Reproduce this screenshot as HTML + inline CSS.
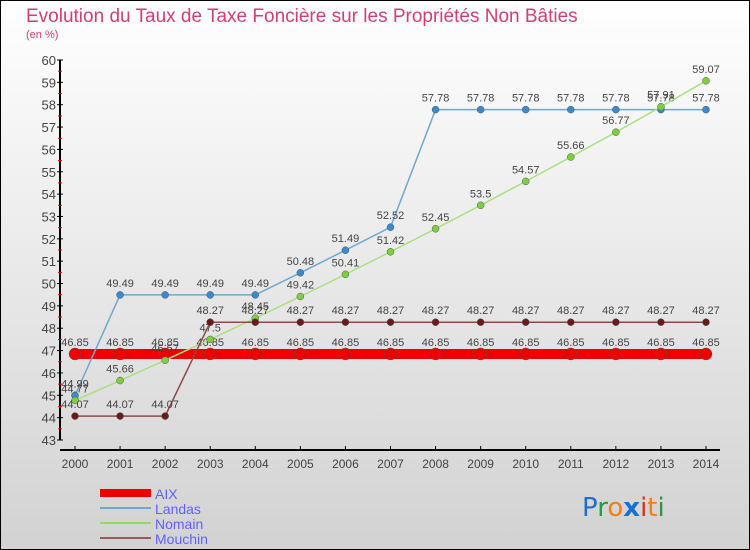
<!DOCTYPE html>
<html><head><meta charset="utf-8"><style>
body{margin:0;width:750px;height:550px;overflow:hidden;font-family:"Liberation Sans",sans-serif}
svg{display:block}
</style></head><body>
<svg id="c" width="750" height="550" xmlns="http://www.w3.org/2000/svg">
<defs><linearGradient id="bg" x1="0" y1="0" x2="0" y2="1"><stop offset="0" stop-color="#ffffff"/><stop offset="1" stop-color="#d2d2d2"/></linearGradient></defs>
<rect x="0.5" y="0.5" width="749" height="549" fill="url(#bg)" stroke="#000"/>
<text x="26" y="22" font-size="19" fill="#d04070">Evolution du Taux de Taxe Foncière sur les Propriétés Non Bâties</text>
<text x="26" y="38" font-size="11" fill="#d04070">(en %)</text>
<g id="axes"></g><g id="series"></g>
<g>
<rect x="100" y="489" width="51" height="8" fill="#e00"/>
<text x="155" y="499" font-size="14" fill="#6060ff">AIX</text>
<line x1="100" y1="508" x2="151" y2="508" stroke="#6fa8cc" stroke-width="2"/>
<text x="155" y="514" font-size="14" fill="#6060ff">Landas</text>
<line x1="100" y1="523" x2="151" y2="523" stroke="#8fdc60" stroke-width="2"/>
<text x="155" y="529" font-size="14" fill="#6060ff">Nomain</text>
<line x1="100" y1="538" x2="151" y2="538" stroke="#9a5a5a" stroke-width="2"/>
<text x="155" y="544" font-size="14" fill="#6060ff">Mouchin</text>
</g>
<text x="582" y="516" font-size="26" font-family="'DejaVu Sans',sans-serif"><tspan fill="#1a6fd0">P</tspan><tspan fill="#2a9a40">r</tspan><tspan fill="#f08010">o</tspan><tspan fill="#1a6fd0" font-weight="bold">x</tspan><tspan fill="#e03010">i</tspan><tspan fill="#f08010">t</tspan><tspan fill="#2a9a40">i</tspan></text>
</svg>
<script>
const years=[2000,2001,2002,2003,2004,2005,2006,2007,2008,2009,2010,2011,2012,2013,2014];
const aix=[46.85,46.85,46.85,46.85,46.85,46.85,46.85,46.85,46.85,46.85,46.85,46.85,46.85,46.85,46.85];
const landas=[44.99,49.49,49.49,49.49,49.49,50.48,51.49,52.52,57.78,57.78,57.78,57.78,57.78,57.78,57.78];
const nomain=[44.77,45.66,46.57,47.5,48.45,49.42,50.41,51.42,52.45,53.5,54.57,55.66,56.77,57.91,59.07];
const mouchin=[44.07,44.07,44.07,48.27,48.27,48.27,48.27,48.27,48.27,48.27,48.27,48.27,48.27,48.27,48.27];
const yTicks=[43,44,45,46,47,48,49,50,51,52,53,54,55,56,57,58,59,60];
const NS="http://www.w3.org/2000/svg";
const X=i=>75+i*(706-75)/14;
const Y=v=>440-(v-43)*(380/17);
function mk(t,a,p){const e=document.createElementNS(NS,t);for(const k in a)e.setAttribute(k,a[k]);p.appendChild(e);return e;}
const ax=document.getElementById('axes');
let yl=mk('line',{x1:60,y1:60,x2:60,y2:440,stroke:'#000','stroke-width':2},ax);


let xl=mk('line',{x1:60,y1:450,x2:720,y2:450,stroke:'#000','stroke-width':2},ax);


yTicks.forEach(v=>{
  mk('line',{x1:57,y1:Y(v),x2:63,y2:Y(v),stroke:'#000'},ax);
  if(v<60)mk('line',{x1:58,y1:Y(v+0.5),x2:62,y2:Y(v+0.5),stroke:'#e00'},ax);
  const t=mk('text',{x:56,y:Y(v)+5,'font-size':13,'text-anchor':'end',fill:'#444'},ax);
  t.textContent=v;
  
  
});
years.forEach((y,i)=>{
  mk('line',{x1:X(i),y1:446,x2:X(i),y2:450,stroke:'#000'},ax);
  const t=mk('text',{x:X(i),y:468,'font-size':12,'text-anchor':'middle',fill:'#444'},ax);
  t.textContent=y;
  
  
});
const sg=document.getElementById('series');
function series(name,vals,col,dot,w,r){
  const g=mk('g',{},sg);
  
  
  const pl=mk('polyline',{points:vals.map((v,i)=>X(i)+','+Y(v)).join(' '),fill:'none',stroke:col,'stroke-width':w},g);
  
  
  vals.forEach((v,i)=>{
    const c=mk('circle',{cx:X(i),cy:Y(v),r:r,fill:dot,stroke:'#555','stroke-width':0.5},g);
    
    
    const t=mk('text',{x:X(i),y:Y(v)-8,'font-size':11,'text-anchor':'middle',fill:'#444'},g);
    t.textContent=v;
    
    
  });
}
series('aix',aix,'#ee0000','#ee0000',10,6);
series('landas',landas,'#6fa8cc','#3a8ad0',1.5,3.5);
series('nomain',nomain,'#a8e080','#7cd040',1.5,3.5);
series('mouchin',mouchin,'#8a4a4a','#6a1a1a',1.5,3.5);
</script>
</body></html>
